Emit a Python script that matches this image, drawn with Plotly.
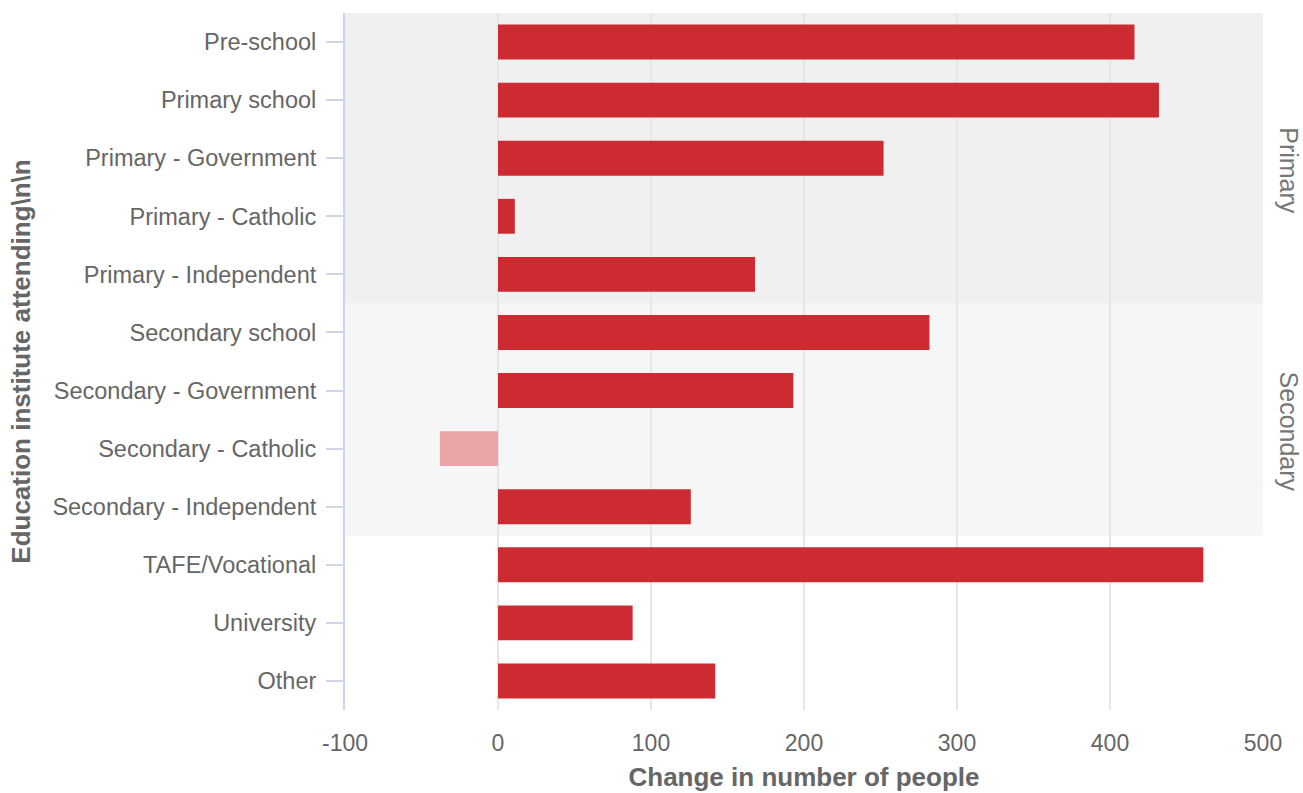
import plotly.graph_objects as go

categories = [
    "Pre-school", "Primary school", "Primary - Government", "Primary - Catholic",
    "Primary - Independent", "Secondary school", "Secondary - Government",
    "Secondary - Catholic", "Secondary - Independent", "TAFE/Vocational",
    "University", "Other",
]
values = [416, 432, 252, 11, 168, 282, 193, -38, 126, 461, 88, 142]
x_ticks = [-100, 0, 100, 200, 300, 400, 500]
x_tick_text = ["-100", "0", "100", "200", "300", "400", "500"]
band_labels = ["Primary", "Secondary"]
band_ranges = [(-0.5, 4.5), (4.5, 8.5)]
band_colors = ["#f0f0f0", "#f6f6f6"]

FONT = "Liberation Sans, Arial, sans-serif"
POS = "#cc2b31"
NEG = "#eba5a8"

fig = go.Figure()
fig.add_trace(go.Bar(
    y=categories, x=values, orientation="h", width=0.6,
    marker=dict(color=[POS if v >= 0 else NEG for v in values], line=dict(width=0)),
    hoverinfo="x+y",
))

for (y0, y1), col, lab in zip(band_ranges, band_colors, band_labels):
    fig.add_shape(type="rect", xref="paper", yref="y", x0=0, x1=1, y0=y0, y1=y1,
                  fillcolor=col, line=dict(width=0), layer="below")
    fig.add_annotation(xref="paper", yref="y", x=1.0, y=(y0 + y1) / 2, xanchor="center",
                       yanchor="middle", xshift=26, yshift=-12, text=lab, textangle=90,
                       showarrow=False, font=dict(family=FONT, size=25, color="#777777"))

fig.update_layout(
    width=1303, height=793,
    margin=dict(l=345, r=40, t=13, b=83),
    plot_bgcolor="rgba(0,0,0,0)", paper_bgcolor="white",
    showlegend=False, bargap=0.4,
    font=dict(family=FONT, size=23, color="#666666"),
)
fig.update_xaxes(
    range=[-100, 500], tickvals=x_ticks, ticktext=x_tick_text, automargin=False,
    showgrid=True, gridcolor="#e6e6e6", gridwidth=1.5,
    zeroline=False, showline=False, ticks="", ticklabelstandoff=17,
    tickfont=dict(family=FONT, size=23, color="#666666"),
    title=dict(text="<b>Change in number of people</b>", standoff=12,
               font=dict(family=FONT, size=26, color="#666666")),
)
fig.update_yaxes(
    categoryorder="array", categoryarray=categories, autorange="reversed", automargin=False,
    showgrid=False, zeroline=False, showline=True, linecolor="#ccd6eb", linewidth=2,
    ticks="outside", ticklen=17, tickcolor="#ccd6eb", tickwidth=2, ticklabelstandoff=5,
    tickfont=dict(family=FONT, size=23.5, color="#666666"),
    title=dict(text="<b>Education institute attending\\n\\n</b>", standoff=14,
               font=dict(family=FONT, size=26, color="#666666")),
)

fig.write_html("out.html", config={"displayModeBar": False},
               post_script="document.body.style.margin='0';document.body.style.overflow='hidden';")
